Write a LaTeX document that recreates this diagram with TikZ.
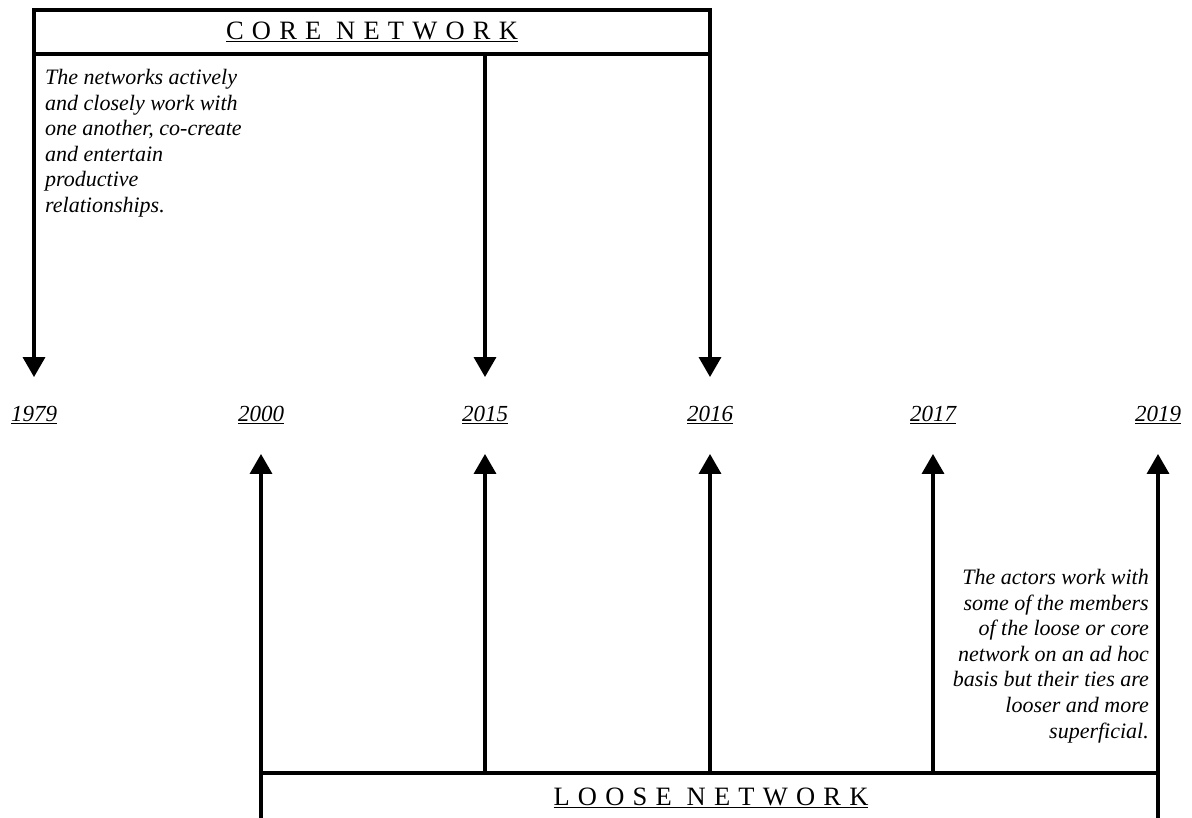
\documentclass[tikz,border=0pt]{standalone}
\usepackage{fontspec}
\setmainfont{Liberation Serif}
\usetikzlibrary{arrows.meta,calc}
\begin{document}
\begin{tikzpicture}[x=1pt,y=-1pt,
  rule/.style={line width=3.5pt},
  arr/.style={line width=3.5pt,-{Triangle[width=22pt,length=20pt]}},
  year/.style={font=\itshape\fontsize{23}{23}\selectfont,inner sep=0pt},
  title/.style={font=\fontsize{26.5}{26.5}\selectfont\addfontfeatures{LetterSpace=31}},
  note/.style={font=\itshape\fontsize{22}{25.6}\selectfont,inner sep=0pt}]
\useasboundingbox (0,0) rectangle (1192,818);

% core network box on top
\node[rule,draw,minimum width=676pt,minimum height=44pt,inner sep=0pt,title] (core) at (372,32) {\underline{CORE NETWORK}};

% years
\node[year] (y1979) at (34,415) {\underline{1979}};
\node[year] (y2000) at (261,415) {\underline{2000}};
\node[year] (y2015) at (485,415) {\underline{2015}};
\node[year] (y2016) at (710,415) {\underline{2016}};
\node[year] (y2017) at (933,415) {\underline{2017}};
\node[year] (y2019) at (1158,415) {\underline{2019}};

% loose network open box at the bottom
\coordinate (lbl) at (261,818);
\coordinate (ltl) at (261,773);
\coordinate (ltr) at (1158,773);
\coordinate (lbr) at (1158,818);
\draw[rule] (lbl) -- (ltl) -- (ltr) -- (lbr);
\node[title] (loose) at (711,798) {\underline{LOOSE NETWORK}};

% arrows from the core network down to the years
\foreach \y in {y1979,y2015,y2016}
  \draw[arr,shorten >=29pt] (core.south -| \y) -- (\y.north);

% arrows from the loose network up to the years
\foreach \y in {y2000,y2015,y2016,y2017,y2019}
  \draw[arr,shorten >=30pt] (ltl -| \y) -- (\y.south);

% descriptions
\node[note,anchor=north west,align=left] (corenote) at (45,69)
  {The networks actively\\and closely work with\\one another, co-create\\and entertain\\productive\\relationships.};
\node[note,anchor=north east,align=right] (loosenote) at (1149,569)
  {The actors work with\\some of the members\\of the loose or core\\network on an ad hoc\\basis but their ties are\\looser and more\\superficial.};
\end{tikzpicture}
\end{document}
